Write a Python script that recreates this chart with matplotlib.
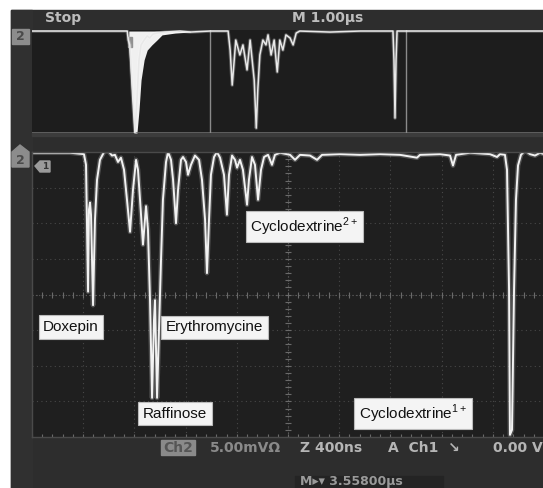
import numpy as np
import matplotlib.pyplot as plt
from matplotlib.patches import Rectangle, Polygon

# zoomed trace (Ch2), time in ns, signal in mV
t_ns = [0, 141, 297, 406, 422, 438, 445, 453, 461, 477, 492, 508, 531, 563, 594,
        625, 648, 672, 695, 719, 742, 766, 789, 813, 828, 844, 867, 891, 906, 922,
        938, 953, 961, 977, 992, 1008, 1023, 1047, 1063, 1086, 1102, 1125, 1141,
        1164, 1180, 1203, 1219, 1242, 1273, 1305, 1328, 1352, 1367, 1383, 1398,
        1422, 1445, 1469, 1500, 1523, 1539, 1563, 1586, 1602, 1625, 1648, 1680,
        1695, 1719, 1742, 1766, 1789, 1813, 1844, 1875, 1898, 1938, 2016, 2055,
        2094, 2172, 2227, 2266, 2406, 2563, 2719, 2875, 3008, 3031, 3188, 3266,
        3289, 3313, 3422, 3578, 3633, 3656, 3695, 3711, 3727, 3734, 3750, 3766,
        3781, 3797, 3820, 3852, 3891, 3930, 3969, 4000]
sig_mv = [19.9, 19.9, 19.9, 19.7, 18.2, 0.4, 11.9, 12.9, 11.2, -1.5, 10.5, 16.1,
          18.9, 20.0, 20.2, 19.5, 19.6, 18.6, 19.2, 17.5, 13.3, 8.8, 14.7, 18.9,
          17.5, 13.3, 7.0, 12.4, 9.1, -0.8, -14.5, -3.6, -0.8, -14.5, -5.0, 4.9,
          13.3, 18.6, 20.0, 18.9, 16.1, 10.0, 14.7, 18.9, 19.3, 18.6, 16.8, 18.2,
          19.5, 18.9, 16.1, 10.5, 3.0, 10.5, 16.8, 19.3, 20.0, 19.2, 16.8, 11.2,
          16.8, 19.5, 18.9, 17.8, 18.9, 17.5, 12.6, 16.1, 19.3, 18.2, 13.3, 17.5,
          19.3, 19.6, 18.2, 19.6, 19.9, 19.6, 18.9, 19.6, 19.5, 18.9, 19.6, 19.7,
          19.6, 19.7, 19.6, 19.2, 19.6, 19.7, 19.5, 18.1, 19.6, 19.9, 19.7, 19.3,
          19.7, 19.6, 17.5, 0.7, -19.7, -19.0, 0.7, 13.3, 18.1, 19.6, 20.2, 19.7,
          19.5, 19.9, 19.7]

# full record (top window), time in us
rec_t_us = [0, 0.55, 1.33, 1.86, 1.88, 1.91, 1.97, 2.01, 2.05, 2.09, 2.13, 2.19,
            2.25, 2.30, 2.36, 2.44, 2.60, 2.89, 3.09, 3.48, 3.83, 3.87, 3.91,
            3.95, 3.98, 4.06, 4.12, 4.20, 4.26, 4.34, 4.38, 4.41, 4.45, 4.51,
            4.57, 4.61, 4.67, 4.73, 4.79, 4.84, 4.90, 4.96, 5.04, 5.10, 5.16,
            5.23, 5.82, 6.41, 7.05, 7.07, 7.09, 7.11, 7.13, 7.58, 10.0]
rec_mv = [19.6, 19.6, 19.6, 19.6, 16.1, 14.2, -7.2, -20.0, -7.2, 8.4, 14.2, 16.1,
          17.7, 16.9, 18.4, 18.8, 19.2, 19.6, 19.2, 19.6, 19.6, 12.2, -1.4, 8.4,
          16.1, 10.3, 14.2, 4.5, 16.1, 0.6, -18.1, -3.3, 10.3, 16.1, 14.2, 18.1,
          10.3, 16.1, 3.7, 16.1, 12.2, 18.1, 16.9, 14.2, 18.8, 19.6, 19.2, 19.6,
          19.6, 8.4, -14.2, 8.4, 19.6, 19.6, 19.6]
# saturated blob lower edge in the record view
blob_t_us = [1.89, 1.93, 1.97, 1.99, 2.05, 2.09, 2.13, 2.19, 2.25, 2.34, 2.44,
             2.54, 2.79, 3.09]
blob_mv = [13.4, 0.6, -11.1, -20.0, -20.0, -11.1, 0.6, 8.4, 12.2, 14.2, 16.1,
           18.1, 18.8, 19.2]
zoom_win_us = [3.48, 7.30]

labels = ['Doxepin', 'Erythromycine', 'Raffinose', 'Cyclodextrine$^{1+}$',
          'Cyclodextrine$^{2+}$']
label_xy = [(71, 327), (214.5, 327.5), (175, 413.5), (413, 413.5), (304.5, 226.5)]

W, H = 543, 488
fig = plt.figure(figsize=(W / 100, H / 100), dpi=100, facecolor='white')
plt.rcParams['mathtext.fontset'] = 'custom'
plt.rcParams['mathtext.rm'] = 'Liberation Sans'


def box(x0, y0, x1, y1):
    return [x0 / W, 1 - y1 / H, (x1 - x0) / W, (y1 - y0) / H]


# background / frame
bg = fig.add_axes([0, 0, 1, 1])
bg.set_xlim(0, W)
bg.set_ylim(H, 0)
bg.axis('off')
bg.add_patch(Rectangle((11, 10), W - 11, H - 10, color='#2d2d2d'))
bg.add_patch(Rectangle((11, 10), 21, H - 10, color='#303030'))
bg.add_patch(Rectangle((32, 133), W - 32, 3, color='#3c3c3c'))

# top record window
ax1 = fig.add_axes(box(32, 30, 544, 133))
ax1.set_facecolor('#1d1d1d')
ax1.set_xlim(0, 10)
ax1.set_ylim(-20, 20)
ax1.set_xticks([])
ax1.set_yticks([])
for s in ax1.spines.values():
    s.set_visible(False)
ax1.axhline(-20, color='#6a6a6a', lw=1.2)
for x in zoom_win_us:
    ax1.axvline(x, color='#8a8a8a', lw=1)
ax1.fill_between(blob_t_us, blob_mv, 19.6, color='#f0f0f0', lw=0)
ax1.add_patch(Rectangle((1.88, 13.4), 0.08, 4, color='#909090'))
ax1.plot(rec_t_us, rec_mv, color='white', lw=2.5, alpha=0.25)
ax1.plot(rec_t_us, rec_mv, color='#e8e8e8', lw=1.1)

# main zoomed window
ax = fig.add_axes(box(32, 152, 544, 437))
ax.set_facecolor('#1f1f1f')
ax.set_xlim(0, 4000)
ax.set_ylim(-20, 20)
ax.set_xticks([])
ax.set_yticks([])
for s in ax.spines.values():
    s.set_color('#4a4a4a')
    s.set_linewidth(1)
for x in np.arange(400, 4000, 400):
    ax.axvline(x, color='#484848', lw=0.8, ls=(0, (1, 3)))
for y in np.arange(-15, 20, 5):
    ax.axhline(y, color='#484848', lw=0.8, ls=(0, (1, 3)))
ax.axvline(2000, color='#5a5a5a', lw=0.8, ls=(0, (1, 2)))
ax.axhline(0, color='#5a5a5a', lw=0.8, ls=(0, (1, 2)))
ax.plot(np.arange(0, 4001, 80), np.zeros(51), '|', color='#6a6a6a', ms=4, mew=0.8)
ax.plot(np.full(41, 2000), np.arange(-20, 20.1, 1), '_', color='#6a6a6a', ms=4, mew=0.8)
ax.plot(np.arange(0, 4001, 80), np.full(51, -20), '|', color='#6a6a6a', ms=5, mew=0.8)
ax.plot(t_ns, sig_mv, color='white', lw=3.4, alpha=0.22)
ax.plot(t_ns, sig_mv, color='#f2f2f2', lw=1.4)

# overlay: labels, markers and readouts
ov = fig.add_axes([0, 0, 1, 1])
ov.set_xlim(0, W)
ov.set_ylim(H, 0)
ov.axis('off')
ov.patch.set_alpha(0)
for txt, (x, y) in zip(labels, label_xy):
    ov.text(x, y, txt, ha='center', va='center', fontsize=11, family='Liberation Sans',
            color='#111111',
            bbox=dict(boxstyle='square,pad=0.3', fc='#f4f4f4', ec='#bbbbbb', lw=0.8))

ov.text(45, 18, 'Stop', fontsize=10, fontweight='bold', color='#bdbdbd', va='center')
ov.text(292, 18, 'M 1.00\u03bcs', fontsize=10, fontweight='bold', color='#bdbdbd', va='center')

ov.add_patch(Rectangle((12, 29), 17, 15, color='#8c8c8c'))
ov.text(20.5, 37, '2', fontsize=9, fontweight='bold', color='#4a4a4a', ha='center', va='center')
ov.add_patch(Polygon([(12, 152), (20, 145), (29, 152), (29, 167), (12, 167)], color='#8c8c8c'))
ov.text(20.5, 160, '2', fontsize=9, fontweight='bold', color='#4a4a4a', ha='center', va='center')
ov.add_patch(Polygon([(35, 166), (40, 161), (50, 161), (50, 172), (40, 172)], color='#9a9a9a'))
ov.text(45, 166.5, '1', fontsize=6.5, fontweight='bold', color='#333333', ha='center', va='center')

ov.add_patch(Rectangle((161, 440), 34, 15, color='#8a8a8a'))
ov.text(178, 447.5, 'Ch2', fontsize=10, fontweight='bold', color='#555555', ha='center', va='center')
ov.text(210, 447.5, '5.00mV\u03a9', fontsize=10, fontweight='bold', color='#8a8a8a', va='center')
ov.text(300, 447.5, 'Z 400ns', fontsize=10, fontweight='bold', color='#b5b5b5', va='center')
ov.text(388, 447.5, 'A  Ch1  \u2198', fontsize=10, fontweight='bold', color='#b5b5b5', va='center')
ov.text(543, 447.5, '0.00 V', fontsize=10, fontweight='bold', color='#b5b5b5', va='center', ha='right')
ov.add_patch(Rectangle((295, 476), 148, 12, color='#242424'))
ov.text(300, 482, 'M\u25b8\u25be 3.55800\u03bcs', fontsize=9, fontweight='bold',
        color='#9a9a9a', va='center')

fig.savefig('out.png', dpi=100, facecolor='white')
